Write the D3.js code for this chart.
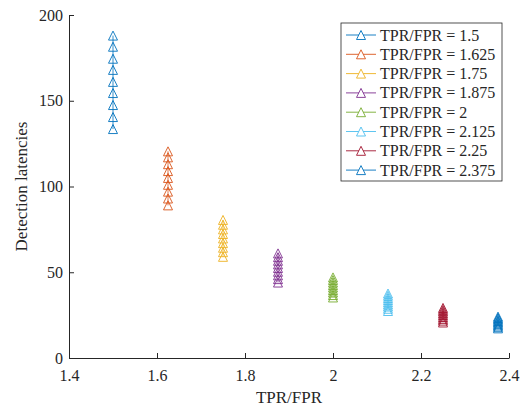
<!DOCTYPE html>
<html>
<head>
<meta charset="utf-8">
<script src="https://cdn.jsdelivr.net/npm/d3@7"></script>
<style>
  html, body { margin: 0; padding: 0; background: #fff; }
  svg { display: block; }
  text { font-family: "Liberation Serif", "Times New Roman", serif; fill: #262626; }
</style>
</head>
<body>
<div id="chart"></div>
<script>
// ---- data ----
const ratios = [1.5, 1.625, 1.75, 1.875, 2, 2.125, 2.25, 2.375];
const seriesNames = ["TPR/FPR = 1.5", "TPR/FPR = 1.625", "TPR/FPR = 1.75", "TPR/FPR = 1.875",
                     "TPR/FPR = 2", "TPR/FPR = 2.125", "TPR/FPR = 2.25", "TPR/FPR = 2.375"];
const lat_1_5   = [133.5, 140.5, 147.5, 154.5, 161, 168, 174.5, 181.5, 188];
const lat_1_625 = [89, 93, 97, 101, 105, 109, 113, 117, 120.5];
const lat_1_75  = [59, 61.7, 64.3, 67, 69.7, 72.3, 75, 77.7, 80.5];
const lat_1_875 = [44, 46, 48.2, 50.3, 52.5, 54.6, 56.7, 58.8, 61];
const lat_2     = [35.3, 36.7, 38.2, 39.6, 41.1, 42.5, 44, 45.5, 47];
const lat_2_125 = [27.4, 28.7, 30, 31.2, 32.5, 33.8, 35, 36.3, 37.6];
const lat_2_25  = [20.7, 21.8, 22.8, 23.9, 25, 26, 27.1, 28.1, 29.2];
const lat_2_375 = [17.3, 18.2, 19, 19.9, 20.7, 21.6, 22.4, 23.3, 24.1];
const latencies = [lat_1_5, lat_1_625, lat_1_75, lat_1_875, lat_2, lat_2_125, lat_2_25, lat_2_375];
const colors = ["#0072BD", "#D95319", "#EDB120", "#7E2F8E", "#77AC30", "#4DBEEE", "#A2142F", "#0072BD"];
const xTicks = [1.4, 1.6, 1.8, 2, 2.2, 2.4];
const yTicks = [0, 50, 100, 150, 200];
const xLabel = "TPR/FPR";
const yLabel = "Detection latencies";

// ---- layout ----
const W = 531, H = 409;
const m = { left: 69, right: 22, top: 15, bottom: 51 };
const svg = d3.select("#chart").append("svg").attr("width", W).attr("height", H);

const x = d3.scaleLinear().domain([1.4, 2.4]).range([m.left, W - m.right]);
const y = d3.scaleLinear().domain([0, 200]).range([H - m.bottom, m.top]);

const axisColor = "#262626";

// axes
const gx = svg.append("g").attr("transform", `translate(0,${H - m.bottom})`)
  .call(d3.axisBottom(x).tickValues(xTicks).tickFormat(d3.format("~g")).tickSizeInner(-5).tickSizeOuter(0).tickPadding(12));
const gy = svg.append("g").attr("transform", `translate(${m.left},0)`)
  .call(d3.axisLeft(y).tickValues(yTicks).tickFormat(d3.format("d")).tickSizeInner(-5).tickSizeOuter(0).tickPadding(6));
[gx, gy].forEach(g => {
  g.select(".domain").attr("stroke", axisColor).attr("stroke-width", 1);
  g.selectAll(".tick line").attr("stroke", axisColor).attr("stroke-width", 1);
  g.selectAll(".tick text").attr("font-size", 16).attr("font-family", '"Liberation Serif", serif').attr("fill", axisColor);
});

// axis labels
svg.append("text").attr("x", x(1.9)).attr("y", 403).attr("text-anchor", "middle")
  .attr("font-size", 17).text(xLabel);
svg.append("text").attr("transform", `translate(27,${y(100)}) rotate(-90)`).attr("text-anchor", "middle")
  .attr("font-size", 17).text(yLabel);

// marker
const tri = (s) => `M0,${-s}L${s},${s}L${-s},${s}Z`;
const ms = 4.5;

// series
const line = d3.line().x(d => d[0]).y(d => d[1]);
ratios.forEach((r, i) => {
  const pts = latencies[i].map(v => [x(r), y(v)]);
  const g = svg.append("g");
  g.append("path").attr("d", line(pts)).attr("fill", "none").attr("stroke", colors[i]).attr("stroke-width", 0.8);
  g.selectAll("path.m").data(pts).enter().append("path").attr("class", "m")
    .attr("transform", d => `translate(${d[0]},${d[1]})`)
    .attr("d", tri(ms)).attr("fill", "none").attr("stroke", colors[i]).attr("stroke-width", 0.9);
});

// legend
const lg = svg.append("g");
const lx = 341, ly = 23, lw = 161, lh = 158;
lg.append("rect").attr("x", lx).attr("y", ly).attr("width", lw).attr("height", lh)
  .attr("fill", "#fff").attr("stroke", "#262626").attr("stroke-width", 0.8);
seriesNames.forEach((name, i) => {
  const cy = 35 + i * 19.3;
  lg.append("line").attr("x1", 346).attr("x2", 376).attr("y1", cy).attr("y2", cy)
    .attr("stroke", colors[i]).attr("stroke-width", 0.9);
  lg.append("path").attr("transform", `translate(361,${cy})`).attr("d", tri(ms))
    .attr("fill", "#fff").attr("stroke", colors[i]).attr("stroke-width", 0.9);
  lg.append("text").attr("x", 380).attr("y", cy + 5.5).attr("font-size", 16).text(name);
});
</script>
</body>
</html>
